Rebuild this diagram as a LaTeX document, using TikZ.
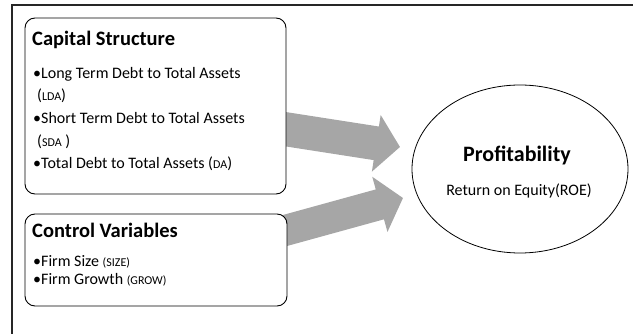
\documentclass[tikz,border=0pt]{standalone}
\usepackage{fontspec}
\setmainfont{Carlito}
\usetikzlibrary{arrows.meta}
\definecolor{arrowgray}{HTML}{A6A6A6}
\tikzset{
  box/.style={draw=black, line width=0.9pt, rounded corners=10pt, fill=white},
  frameline/.style={draw=black!85, line width=1.6pt},
  title/.style={anchor=base west, inner sep=0pt, font=\fontsize{20.5}{24}\selectfont\bfseries},
  item/.style={anchor=base west, inner sep=0pt, font=\fontsize{16}{19}\selectfont},
  bigarrow/.style={draw=arrowgray, -{Triangle[length=24pt,width=56pt]}},
}
\newcommand{\sm}[1]{{\fontsize{12}{14}\selectfont #1}}
\begin{document}
\begin{tikzpicture}[x=1pt,y=-1pt]
\useasboundingbox (0,0) rectangle (633,334);
% frame
\draw[frameline] (12,334) -- (12,5) -- (633,5);
% arrows
\coordinate (t1) at (265,126);
\coordinate (h1) at (400,147);
\coordinate (t2) at (265,236);
\coordinate (h2) at (403,198);
\draw[bigarrow, line width=34pt] (t1) -- (h1);
\draw[bigarrow, line width=31pt] (t2) -- (h2);
% boxes
\draw[box] (25,18) rectangle (286,194);
\draw[box] (25,214) rectangle (287,306);
% capital structure texts
\node[title] (cst) at (32,46) {Capital Structure};
\node[item] (c1) at (33,79) {•Long Term Debt to Total Assets};
\node[item] (c1b) at (37,101) {(\sm{LDA})};
\node[item] (c2) at (33,124) {•Short Term Debt to Total Assets};
\node[item] (c2b) at (37,147) {(\sm{SDA} )};
\node[item] (c3) at (33,169) {•Total Debt to Total Assets (\sm{DA})};
% control variables texts
\node[title] (cvt) at (32,238) {Control Variables};
\node[item] (v1) at (33,267) {•Firm Size \sm{(SIZE)}};
\node[item] (v2) at (33,285) {•Firm Growth \sm{(GROW)}};
% ellipse
\draw[line width=0.8pt] (520,169) ellipse [x radius=108, y radius=84];
\node[anchor=base, inner sep=0pt, font=\fontsize{22}{26}\selectfont\bfseries] (pt) at (517,162) {Profitability};
\node[anchor=base, inner sep=0pt, font=\fontsize{16}{19}\selectfont] (pr) at (519,196) {Return on Equity(ROE)};
\end{tikzpicture}
\end{document}
